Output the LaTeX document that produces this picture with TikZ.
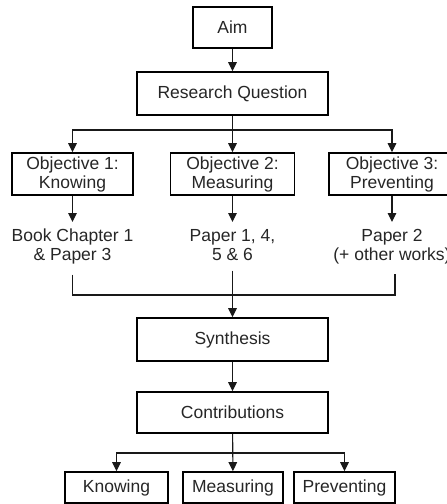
\documentclass[tikz,border=0pt]{standalone}
\usepackage{fontspec}
\setmainfont{Liberation Sans}
\usetikzlibrary{arrows.meta}
\begin{document}
\begin{tikzpicture}[x=1pt,y=-1pt,
  every node/.style={font=\fontsize{17.5}{19}\selectfont, text=black!85},
  box/.style={draw=black, line width=1.6pt, inner sep=0pt, align=center},
  outcome/.style={inner xsep=0pt, inner ysep=7pt, align=center, anchor=north},
  link/.style={line width=1.1pt, draw=black!90},
  arr/.style={link, -{Triangle[width=8.5pt,length=9pt]}}]
  \useasboundingbox (0,0) rectangle (447,504);
  \clip (0,0) rectangle (447,504);

  % top of the hierarchy
  \node[box, minimum width=79pt, minimum height=41pt] (aim) at (232.5,27.5) {Aim};
  \node[box, minimum width=191pt, minimum height=43pt] (rq) at (232.5,93.5) {Research Question};

  % three objectives
  \node[box, minimum width=121pt, minimum height=42pt] (o1) at (72.5,174) {Objective 1:\\Knowing};
  \node[box, minimum width=124pt, minimum height=42pt] (o2) at (232.5,174) {Objective 2:\\Measuring};
  \node[box, minimum width=126pt, minimum height=42pt] (o3) at (392,174) {Objective 3:\\Preventing};

  % publications per objective
  \node[outcome] (p1) at (72.5,222) {Book Chapter 1\\\& Paper 3};
  \node[outcome] (p2) at (232.5,222) {Paper 1, 4,\\5 \& 6};
  \node[outcome] (p3) at (392,222) {Paper 2\\(+ other works)};

  % synthesis and contributions
  \node[box, minimum width=191pt, minimum height=43pt] (syn) at (232.5,339.5) {Synthesis};
  \node[box, minimum width=191pt, minimum height=41pt] (con) at (232.5,412.5) {Contributions};

  \node[box, minimum width=103pt, minimum height=31pt] (kn) at (116.5,487.5) {Knowing};
  \node[box, minimum width=100pt, minimum height=31pt] (ms) at (233,487.5) {Measuring};
  \node[box, minimum width=101pt, minimum height=31pt] (pv) at (344.5,487.5) {Preventing};

  \coordinate (split) at (232.5,130);
  \coordinate (join) at (232.5,295);
  \coordinate (fan) at (232.5,453);

  % connectors
  \draw[arr] (aim) -- (rq);
  \draw[arr] (rq) -- (o2);
  \draw[arr] (split) -| (o1.north);
  \draw[arr] (split) -| (o3.north);

  \draw[arr] (o1) -- (p1);
  \draw[arr] (o2) -- (p2);
  \draw[arr] (o3) -- (p3);

  \draw[link, shorten <=3pt] (p1.south) |- (join);
  \draw[link, shorten <=3pt] ([xshift=3pt]p3.south) |- (join);
  \draw[arr, shorten <=3pt] (p2.south) -- (syn.north);

  \draw[arr] (syn) -- (con);
  \draw[arr] (con) -- (ms);
  \draw[arr] (fan) -| (kn.north);
  \draw[arr] (fan) -| (pv.north);
\end{tikzpicture}
\end{document}
